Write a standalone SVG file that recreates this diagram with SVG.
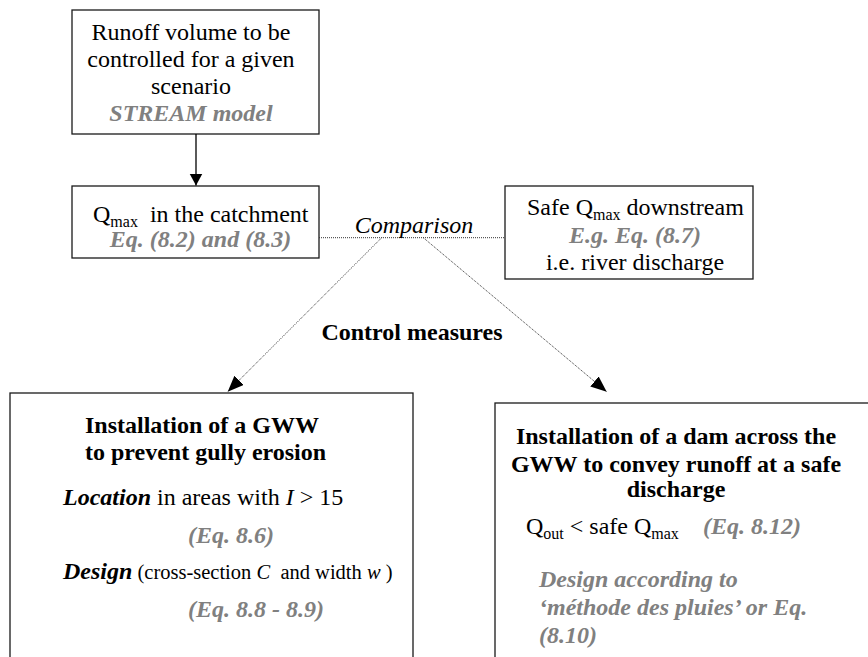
<svg xmlns="http://www.w3.org/2000/svg" width="868" height="657" viewBox="0 0 868 657">
<style>
text{font-family:"Liberation Serif","Times New Roman",serif;font-size:24px;fill:#000}
.box{fill:#fff;stroke:#1a1a1a;stroke-width:1.3}
.g{fill:#808080;font-weight:bold;font-style:italic}
.b{font-weight:bold}
.bi{font-weight:bold;font-style:italic}
.i{font-style:italic}
.sub{font-size:16px}
.dot{stroke:#333;stroke-width:1;stroke-dasharray:1 1;fill:none}
.solid{stroke:#000;stroke-width:1.3;fill:none}
</style>
<defs>
<marker id="ah" markerUnits="userSpaceOnUse" markerWidth="17" markerHeight="14" refX="16" refY="6.5" orient="auto">
<path d="M0,0 L16,6.5 L0,13 z" fill="#000"/>
</marker>
<marker id="ah2" markerUnits="userSpaceOnUse" markerWidth="13" markerHeight="14" refX="12" refY="6.5" orient="auto">
<path d="M0,0 L12,6.5 L0,13 z" fill="#000"/>
</marker>
</defs>
<g id="node-runoff">
<rect class="box" x="72" y="10" width="247" height="124"/>
<text x="191" y="39.5" text-anchor="middle">Runoff volume to be</text>
<text x="191" y="67" text-anchor="middle">controlled for a given</text>
<text x="191" y="94" text-anchor="middle">scenario</text>
<text x="191" y="121" text-anchor="middle" class="g">STREAM model</text>
</g>
<g id="node-qmax">
<rect class="box" x="72" y="186" width="247" height="72"/>
<text x="93" y="221.5">Q<tspan class="sub" dy="5">max</tspan><tspan dy="-5" xml:space="preserve">  in the catchment</tspan></text>
<text x="200.5" y="246.5" text-anchor="middle" class="g">Eq. (8.2) and (8.3)</text>
</g>
<g id="node-safe">
<rect class="box" x="505" y="186" width="248" height="93"/>
<text x="527" y="215">Safe Q<tspan class="sub" dy="5">max</tspan><tspan dy="-5"> downstream</tspan></text>
<text x="635" y="242.5" text-anchor="middle" class="g">E.g. Eq. (8.7)</text>
<text x="635" y="270" text-anchor="middle">i.e. river discharge</text>
</g>
<g id="node-gww">
<rect class="box" x="10" y="393" width="403" height="300"/>
<text x="85" y="432.7" class="b">Installation of a GWW</text>
<text x="85" y="460" class="b">to prevent gully erosion</text>
<text x="63" y="505"><tspan class="bi">Location</tspan> in areas with <tspan class="i">I</tspan> &gt; 15</text>
<text x="188" y="543" class="g">(Eq. 8.6)</text>
<text x="63" y="579"><tspan class="bi">Design</tspan><tspan font-size="20.5" xml:space="preserve"> (cross-section <tspan class="i">C</tspan>  and width <tspan class="i">w</tspan> )</tspan></text>
<text x="188" y="616.5" class="g">(Eq. 8.8 - 8.9)</text>
</g>
<g id="node-dam">
<rect class="box" x="495" y="403" width="400" height="300"/>
<text x="676" y="444" text-anchor="middle" class="b">Installation of a dam across the</text>
<text x="676" y="471.5" text-anchor="middle" class="b">GWW to convey runoff at a safe</text>
<text x="676" y="496.5" text-anchor="middle" class="b">discharge</text>
<text x="526" y="534">Q<tspan class="sub" dy="5">out</tspan><tspan dy="-5"> &lt; safe Q</tspan><tspan class="sub" dy="5">max</tspan></text>
<text x="703" y="534" class="g">(Eq. 8.12)</text>
<text x="539" y="587" class="g">Design according to</text>
<text x="539" y="615" class="g">‘méthode des pluies’ or Eq.</text>
<text x="539" y="643" class="g">(8.10)</text>
</g>
<g id="connectors">
<line class="solid" x1="196" y1="134" x2="196" y2="185.5" marker-end="url(#ah2)"/>
<line class="dot" x1="319" y1="237.7" x2="505" y2="237.7"/>
<line class="dot" x1="381.7" y1="237.7" x2="227.7" y2="391.7" marker-end="url(#ah)"/>
<line class="dot" x1="423.3" y1="237.7" x2="606.7" y2="391.7" marker-end="url(#ah)"/>
<text x="414" y="233" text-anchor="middle" class="i" font-size="21">Comparison</text>
<text x="412" y="340" text-anchor="middle" class="b">Control measures</text>
</g>
</svg>
